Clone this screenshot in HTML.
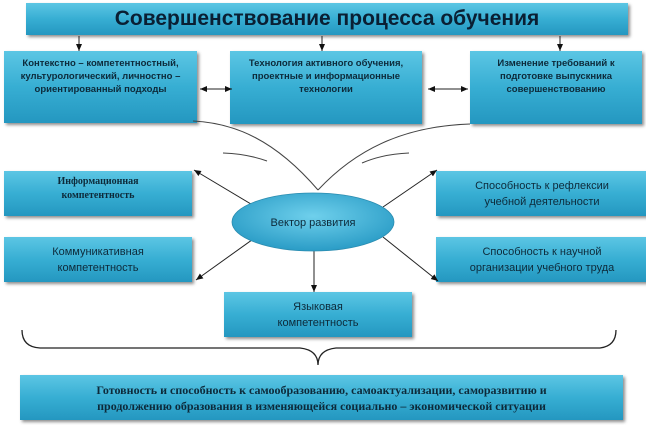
<!DOCTYPE html>
<html><head><meta charset="utf-8"><style>
body{margin:0;width:646px;height:425px;background:#fff;position:relative;overflow:hidden;font-family:"Liberation Sans",sans-serif}
.b{position:absolute;box-sizing:border-box;background:linear-gradient(#5cc6e4,#37aed3 50%,#2497c0);box-shadow:2px 2px 3px rgba(0,0,0,.45);display:flex;align-items:center;justify-content:center;text-align:center;color:#0d2a3a;font-weight:bold}
svg{position:absolute;left:0;top:0}
</style></head><body>
<div class="b" style="left:26px;top:3px;width:602px;height:32px;font-size:21px;color:#0a1f33">Совершенствование процесса обучения</div>
<div class="b" style="left:4px;top:51px;width:193px;height:72px;font-size:9.5px;line-height:13px;align-items:flex-start;padding-top:6px">Контекстно – компетентностный, культурологический, личностно – ориентированный подходы</div>
<div class="b" style="left:230px;top:51px;width:192px;height:73px;font-size:9.5px;line-height:13px;align-items:flex-start;padding-top:6px">Технология активного обучения, проектные и информационные технологии</div>
<div class="b" style="left:470px;top:51px;width:172px;height:73px;font-size:9.5px;line-height:13px;align-items:flex-start;padding-top:6px">Изменение требований к подготовке выпускника совершенствованию</div>
<div class="b" style="left:4px;top:171px;width:188px;height:45px;font-size:10px;line-height:14px;font-family:'Liberation Serif',serif;align-items:flex-start;padding-top:4px">Информационная<br>компетентность</div>
<div class="b" style="left:4px;top:237px;width:188px;height:45px;font-size:11px;line-height:16px;font-weight:normal">Коммуникативная<br>компетентность</div>
<div class="b" style="left:436px;top:171px;width:212px;height:45px;font-size:11px;line-height:16px;font-weight:normal">Способность к рефлексии<br>учебной деятельности</div>
<div class="b" style="left:436px;top:237px;width:212px;height:45px;font-size:11px;line-height:16px;font-weight:normal">Способность к научной<br>организации учебного труда</div>
<div class="b" style="left:224px;top:292px;width:188px;height:45px;font-size:11px;line-height:16px;font-weight:normal">Языковая<br>компетентность</div>
<div class="b" style="left:20px;top:375px;width:603px;height:45px;font-size:12px;line-height:16px;font-family:'Liberation Serif',serif">Готовность и способность к самообразованию, самоактуализации, саморазвитию и<br>продолжению образования в изменяющейся социально – экономической ситуации</div>
<svg width="646" height="425">
<defs><marker id="a" markerWidth="8" markerHeight="8" refX="7" refY="4" orient="auto"><path d="M0,1L7,4L0,7z" fill="#111"/></marker>
<radialGradient id="g" cx="50%" cy="40%" r="60%"><stop offset="0" stop-color="#6fd0ec"/><stop offset="1" stop-color="#2a9cc6"/></radialGradient></defs>
<g stroke="#222" stroke-width="1" fill="none" marker-end="url(#a)">
<line x1="79" y1="36" x2="79" y2="51"/><line x1="322" y1="36" x2="322" y2="51"/><line x1="560" y1="36" x2="560" y2="51"/>
<line x1="215" y1="89" x2="200" y2="89"/><line x1="215" y1="89" x2="232" y2="89"/>
<line x1="450" y1="89" x2="428" y2="89"/><line x1="450" y1="89" x2="468" y2="89"/>
<line x1="256" y1="207" x2="194" y2="170"/><line x1="256" y1="237" x2="196" y2="280"/>
<line x1="383" y1="207" x2="437" y2="170"/><line x1="383" y1="237" x2="438" y2="281"/>
<line x1="314" y1="250" x2="314" y2="292"/>
</g>
<g stroke="#444" stroke-width="1" fill="none">
<path d="M193,121 C235,123 275,140 318,190"/><path d="M470,124 C410,126 360,145 318,190"/>
<path d="M223,153 Q248,154 267,161"/><path d="M409,153 Q383,154 362,163"/>
<path d="M22,330 Q22,347 40,348 L300,348 Q318,350 318,365 Q318,350 336,348 L600,348 Q616,346 616,330" stroke="#222" stroke-width="1.3"/>
</g>
<ellipse cx="313" cy="222" rx="81" ry="29" fill="url(#g)" stroke="#2a8cb0" stroke-width="0.8"/>
<text x="313" y="226" text-anchor="middle" font-size="11" fill="#0d2a3a" font-family="Liberation Sans">Вектор развития</text>
</svg>
</body></html>
